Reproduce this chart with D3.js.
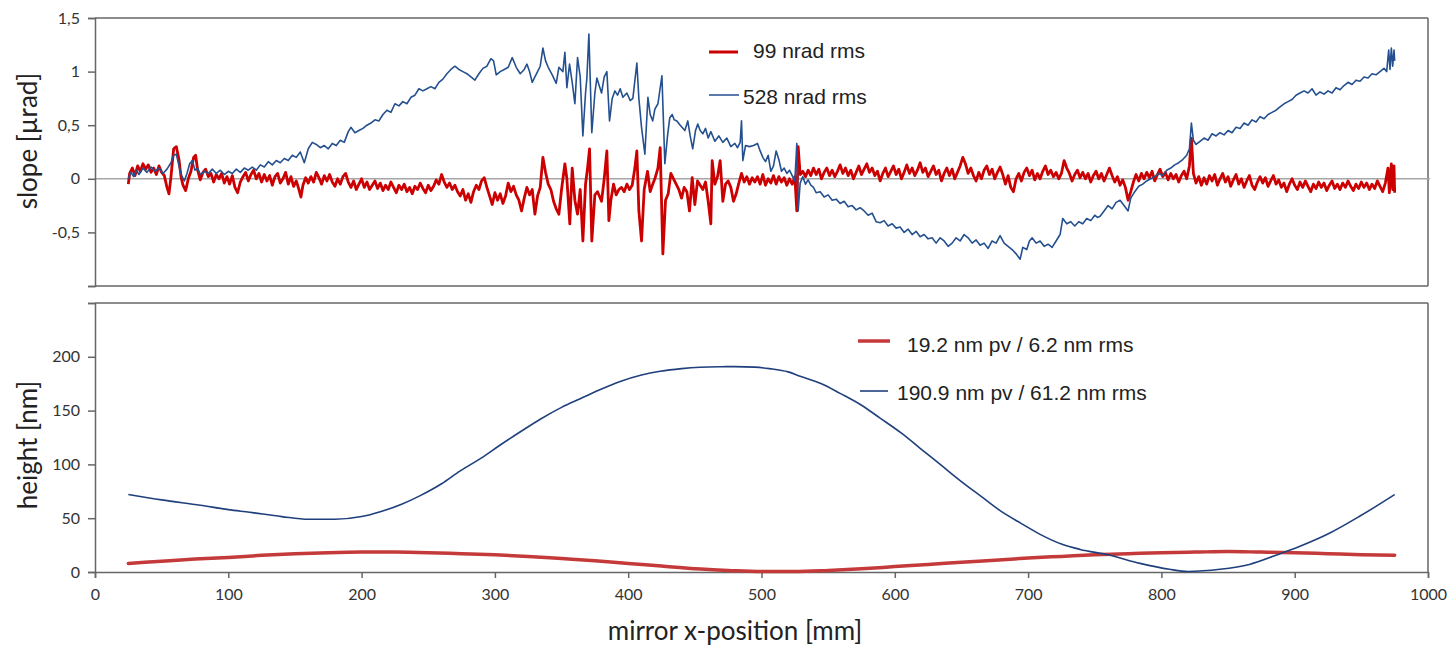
<!DOCTYPE html>
<html><head><meta charset="utf-8">
<script src="https://cdn.jsdelivr.net/npm/d3@7"></script>
<style>
html,body{margin:0;padding:0;background:#fff;}
svg{display:block;}
</style>
</head><body>
<svg id="chart" width="1452" height="646"></svg>
<script>
// ---------------- DATA ----------------
const slopeTicks = [-1, -0.5, 0, 0.5, 1, 1.5];
const slopeTickLabels = ["", "-0,5", "0", "0,5", "1", "1,5"];
const heightTicks = [0, 50, 100, 150, 200, 250];
const heightTickLabels = ["0", "50", "100", "150", "200", ""];
const xTicks = [0, 100, 200, 300, 400, 500, 600, 700, 800, 900, 1000];

const slopeLegend = ["99 nrad rms", "528 nrad rms"];
const heightLegend = ["19.2 nm pv / 6.2 nm rms", "190.9 nm pv / 61.2 nm rms"];

// blue slope (mirror before correction) [x mm, µrad]
const blueSlope = [
[25,0.0],[27,0.06],[29,0.02],[31,0.08],[33,0.04],[36,0.1],[39,0.06],[42,0.11],[45,0.07],[48,0.1],[51,0.05],[54,0.09],[57,0.15],[59,0.22],[61,0.23],[63,0.12],[65,0.03],[67,-0.02],[69,0.05],[71,0.14],[73,0.17],[75,0.08],[77,0.1],[79,0.04],[82,0.07],[85,0.05],[88,0.09],[91,0.05],[94,0.08],[97,0.04],[100,0.07],[103,0.05],[106,0.09],[109,0.06],[112,0.1],[115,0.08],[118,0.11],[121,0.08],[124,0.13],[127,0.11],[130,0.16],[133,0.13],[136,0.17],[139,0.15],[142,0.19],[145,0.17],[148,0.22],[151,0.2],[154,0.25],[157,0.15],[160,0.28],[163,0.34],[166,0.32],[169,0.29],[172,0.31],[175,0.28],[178,0.33],[181,0.31],[184,0.36],[187,0.34],[190,0.44],[192,0.48],[195,0.43],[198,0.45],[201,0.47],[204,0.5],[207,0.52],[210,0.55],[213,0.54],[216,0.6],[219,0.64],[222,0.62],[225,0.7],[228,0.68],[231,0.72],[234,0.7],[237,0.76],[240,0.78],[243,0.84],[246,0.82],[249,0.84],[252,0.86],[255,0.84],[258,0.9],[261,0.93],[264,0.98],[267,1.02],[270,1.05],[273,1.02],[276,1.0],[279,0.98],[282,0.95],[285,0.92],[288,0.98],[291,1.03],[294,1.05],[297,1.12],[299,1.1],[301,0.97],[304,1.0],[307,1.02],[310,1.04],[313,1.13],[316,1.04],[319,0.98],[322,1.02],[324,1.07],[326,1.0],[328,0.9],[330,0.95],[332,1.0],[334,1.05],[336,1.22],[338,1.1],[340,1.04],[343,0.97],[346,0.89],[348,1.04],[351,1.0],[352.5,1.18],[354,0.85],[356,1.07],[358,0.9],[360,0.7],[362,1.13],[364,0.95],[366,0.4],[368,0.8],[369,0.94],[370.5,1.35],[372.7,0.43],[375,0.8],[376.5,0.94],[378,0.88],[380,0.8],[382,0.95],[384,1.0],[386,0.54],[388,0.75],[390,0.82],[392,0.78],[394,0.84],[396,0.76],[399,0.8],[401.5,0.73],[403.5,0.75],[406.5,1.08],[408,0.75],[410,0.48],[412.5,0.23],[414.8,0.76],[416.5,0.6],[418.4,0.54],[420,0.65],[422.3,0.7],[425.3,0.96],[427.5,0.14],[429.5,0.4],[431.2,0.57],[433,0.6],[434.5,0.55],[436.5,0.54],[439,0.5],[442.5,0.45],[444.7,0.54],[446.5,0.4],[448.4,0.28],[450.5,0.45],[452.2,0.51],[454,0.45],[456,0.42],[458,0.47],[460,0.38],[462,0.44],[465,0.35],[468,0.4],[471,0.34],[474,0.38],[477,0.3],[480,0.33],[482,0.29],[484,0.34],[485,0.54],[486,0.17],[488,0.31],[491,0.3],[494,0.31],[497,0.33],[499,0.26],[501,0.2],[503,0.16],[505,0.22],[507,0.07],[509,0.12],[511,0.26],[513,0.18],[515,0.07],[517,0.1],[519,0.05],[521,0.08],[523,0.03],[525,-0.02],[526.5,0.33],[527.5,-0.3],[529,-0.04],[531,0.02],[533,-0.05],[535,-0.01],[537,-0.06],[539,-0.08],[541,-0.13],[544,-0.12],[547,-0.17],[550,-0.15],[553,-0.2],[556,-0.19],[559,-0.23],[562,-0.21],[565,-0.26],[568,-0.25],[571,-0.29],[574,-0.27],[577,-0.3],[580,-0.34],[583,-0.32],[586,-0.4],[589,-0.41],[592,-0.39],[595,-0.44],[598,-0.42],[601,-0.46],[604,-0.45],[607,-0.5],[610,-0.47],[613,-0.52],[616,-0.49],[619,-0.54],[622,-0.52],[625,-0.56],[628,-0.55],[631,-0.6],[634,-0.55],[637,-0.58],[640,-0.63],[643,-0.6],[646,-0.55],[649,-0.58],[652,-0.52],[655,-0.55],[658,-0.6],[661,-0.57],[664,-0.62],[667,-0.6],[670,-0.65],[673,-0.58],[676,-0.6],[679,-0.53],[682,-0.6],[685,-0.63],[688,-0.66],[691,-0.7],[694,-0.75],[696,-0.64],[699,-0.66],[701,-0.58],[703,-0.55],[706,-0.6],[709,-0.58],[712,-0.63],[715,-0.61],[718,-0.64],[721,-0.58],[724,-0.52],[726,-0.37],[729,-0.42],[732,-0.4],[735,-0.44],[738,-0.4],[741,-0.42],[744,-0.37],[747,-0.39],[750,-0.34],[752,-0.36],[754,-0.35],[757,-0.3],[760,-0.25],[763,-0.28],[766,-0.22],[769,-0.2],[772,-0.25],[775,-0.3],[777,-0.18],[780,-0.12],[783,-0.07],[786,-0.05],[789,-0.02],[792,0.0],[795,0.02],[798,0.05],[801,0.03],[804,0.08],[807,0.1],[810,0.13],[813,0.15],[816,0.18],[819,0.22],[821,0.28],[822.5,0.52],[824,0.36],[826,0.32],[829,0.35],[832,0.38],[835,0.36],[838,0.42],[841,0.4],[844,0.43],[847,0.41],[850,0.45],[853,0.43],[856,0.48],[859,0.47],[862,0.52],[865,0.5],[868,0.55],[871,0.53],[874,0.58],[877,0.56],[880,0.6],[883,0.62],[886,0.64],[889,0.67],[892,0.7],[895,0.72],[898,0.74],[901,0.78],[904,0.8],[907,0.82],[910,0.8],[913,0.84],[916,0.78],[919,0.81],[922,0.79],[925,0.82],[928,0.8],[931,0.85],[934,0.83],[937,0.87],[940,0.9],[943,0.88],[946,0.92],[949,0.91],[952,0.95],[955,0.94],[958,0.98],[961,0.97],[964,1.0],[967,1.03],[969,1.0],[970.5,1.2],[971.5,1.02],[972.5,1.22],[973.5,1.05],[974.5,1.2],[975,1.1]
];

// red slope (after correction) [x mm, µrad]
const redSlope = [
[25,-0.05],[26,0.05],[28,0.1],[30,0.03],[32,0.12],[34,0.07],[36,0.14],[38,0.09],[40,0.13],[42,0.06],[44,0.1],[46,0.04],[48,0.12],[50,0.06],[52,0.03],[54,-0.08],[55.5,-0.14],[57,0.02],[59,0.28],[61,0.3],[63,0.18],[64.5,0.02],[66,-0.06],[68,-0.11],[70,0.0],[72,0.07],[74,0.2],[75.5,0.22],[77,0.08],[79,-0.01],[81,0.06],[83,0.09],[85,0.02],[87,0.05],[89,-0.03],[91,0.04],[93,0.0],[95,0.05],[97,-0.04],[99,0.02],[101,-0.05],[103,0.03],[105,-0.08],[107,-0.13],[109,-0.03],[111,0.02],[113,0.06],[115,-0.02],[117,0.04],[119,0.08],[121,0.0],[123,0.05],[125,-0.03],[127,0.04],[129,-0.02],[131,0.03],[133,-0.06],[135,0.02],[137,0.05],[139,-0.04],[141,0.0],[143,0.06],[145,-0.05],[147,0.02],[149,-0.07],[151,-0.02],[153,-0.1],[154.5,-0.17],[156,-0.06],[158,0.01],[160,-0.04],[162,0.02],[164,-0.03],[166,0.06],[168,0.01],[170,-0.05],[172,0.03],[174,-0.02],[176,0.04],[178,-0.03],[180,-0.07],[182,0.0],[184,-0.05],[186,0.02],[188,0.05],[190,-0.03],[192,-0.08],[194,-0.02],[196,-0.1],[198,-0.05],[200,0.0],[202,-0.08],[204,-0.03],[206,-0.1],[208,-0.06],[210,-0.02],[212,-0.09],[214,-0.04],[216,-0.11],[218,-0.06],[220,-0.1],[222,-0.03],[224,-0.08],[226,-0.13],[228,-0.06],[230,-0.1],[232,-0.05],[234,-0.12],[236,-0.08],[238,-0.14],[240,-0.07],[242,-0.1],[244,-0.04],[246,-0.09],[248,-0.13],[250,-0.06],[252,-0.11],[254,-0.07],[256,-0.01],[258,-0.05],[260,0.04],[262,-0.03],[264,-0.08],[266,-0.04],[268,-0.1],[270,-0.06],[272,-0.12],[274,-0.16],[276,-0.1],[278,-0.2],[280,-0.14],[282,-0.22],[284,-0.12],[286,-0.06],[288,-0.1],[290,-0.02],[292,0.01],[294,-0.08],[296,-0.16],[298,-0.24],[300,-0.13],[302,-0.2],[304,-0.14],[306,-0.23],[308,-0.16],[310,-0.04],[312,-0.12],[314,-0.07],[316,-0.15],[318,-0.2],[320,-0.3],[322,-0.18],[324,-0.08],[326,-0.15],[328,-0.1],[330,-0.33],[332,-0.16],[334,-0.08],[336,0.2],[338,0.06],[340,-0.05],[342,-0.1],[344,-0.21],[346,-0.28],[348,-0.33],[350,-0.1],[352.5,0.14],[354,0.0],[356.2,-0.42],[358,0.1],[360,-0.2],[362,-0.33],[364,-0.1],[366,-0.58],[368,-0.05],[369.5,0.1],[371,0.28],[372.7,-0.58],[375,-0.15],[377,-0.12],[380,-0.21],[382,0.0],[384,0.26],[385.5,-0.39],[387,-0.2],[389,-0.05],[391,-0.15],[393,-0.1],[395,-0.08],[397,-0.12],[399,-0.05],[401,-0.1],[403,-0.06],[405,0.1],[406.5,0.26],[408,-0.3],[410,-0.58],[412,-0.1],[414.5,0.07],[416.5,-0.12],[418.4,-0.05],[420,0.0],[422.3,0.1],[424,0.29],[426,-0.7],[428,-0.2],[430,-0.14],[432,0.05],[434,0.0],[436,-0.05],[438,-0.1],[440,-0.18],[442,-0.08],[444,-0.12],[446,-0.3],[448,0.01],[450,-0.24],[452,-0.02],[454,-0.06],[456,-0.1],[458,-0.03],[460,-0.21],[462,-0.42],[463,0.17],[465,-0.05],[467,0.02],[469,0.17],[471,-0.21],[473,-0.05],[475,-0.02],[477,-0.08],[479,-0.21],[481,-0.14],[483,-0.04],[485,0.05],[487,-0.03],[489,0.02],[491,-0.05],[493,0.01],[495,-0.03],[497,0.02],[499,-0.05],[501,0.04],[503,-0.06],[505,0.0],[507,-0.04],[509,0.03],[511,-0.05],[513,0.02],[515,-0.03],[517,0.01],[519,-0.06],[521,0.0],[523,-0.05],[525,0.02],[526.5,-0.3],[527.5,0.3],[529,0.04],[531,0.07],[533,0.02],[535,0.08],[537,0.03],[539,0.1],[541,0.04],[543,0.09],[545,0.0],[547,0.06],[549,0.1],[551,0.03],[553,0.08],[555,0.02],[557,0.07],[559,0.13],[561,0.05],[563,0.1],[565,0.03],[567,0.08],[569,0.0],[571,0.06],[573,0.12],[575,0.04],[577,0.09],[579,0.14],[581,0.06],[583,0.1],[585,0.03],[587,0.07],[589,-0.02],[591,0.05],[593,0.1],[595,0.02],[597,0.07],[599,0.12],[601,0.04],[603,0.09],[605,0.0],[607,0.06],[609,0.13],[611,0.05],[613,0.1],[615,0.03],[617,0.08],[619,0.15],[621,0.06],[623,0.1],[625,0.02],[627,0.07],[629,0.12],[631,0.04],[633,0.08],[635,-0.02],[637,0.05],[639,0.1],[641,0.03],[643,0.09],[645,0.0],[647,0.06],[649,0.12],[651,0.2],[653,0.14],[655,0.05],[657,0.1],[659,0.03],[661,-0.02],[663,0.06],[665,0.0],[667,0.08],[669,0.12],[671,0.04],[673,0.09],[675,0.0],[677,0.06],[679,0.11],[681,0.04],[683,-0.05],[685,0.03],[687,-0.08],[689,-0.12],[691,0.0],[693,0.05],[695,-0.02],[697,0.06],[699,0.1],[701,0.03],[703,0.08],[705,-0.01],[707,0.05],[709,0.0],[711,0.07],[713,0.12],[715,0.04],[717,0.08],[719,0.02],[721,0.06],[723,0.0],[725,0.05],[727,0.17],[729,0.1],[731,0.05],[733,-0.02],[735,0.04],[737,0.08],[739,0.01],[741,0.06],[743,0.0],[745,0.05],[747,-0.03],[749,0.03],[751,0.07],[753,0.0],[755,0.05],[757,-0.02],[759,0.04],[761,0.1],[763,0.03],[765,-0.03],[767,0.02],[769,-0.06],[771,-0.01],[773,-0.08],[775,-0.2],[777,-0.12],[779,-0.03],[781,0.04],[783,-0.02],[785,0.05],[787,0.0],[789,0.06],[791,0.01],[793,0.07],[795,-0.02],[797,0.04],[799,0.09],[801,0.02],[803,0.06],[805,-0.01],[807,0.05],[809,0.0],[811,0.04],[813,-0.03],[815,0.03],[817,0.07],[819,0.0],[821,0.12],[822.5,0.38],[824,0.05],[826,-0.04],[828,0.02],[830,-0.06],[832,0.01],[834,-0.05],[836,0.03],[838,-0.02],[840,0.04],[842,-0.06],[844,0.0],[846,0.05],[848,-0.03],[850,0.02],[852,-0.07],[854,-0.01],[856,0.04],[858,-0.05],[860,0.0],[862,-0.08],[864,-0.02],[866,0.03],[868,-0.06],[870,-0.1],[872,-0.03],[874,0.02],[876,-0.04],[878,0.01],[880,-0.07],[882,-0.02],[884,0.03],[886,-0.05],[888,-0.01],[890,-0.08],[892,-0.04],[894,-0.12],[896,-0.05],[898,0.0],[900,-0.06],[902,-0.1],[904,-0.03],[906,-0.08],[908,-0.02],[910,-0.07],[912,-0.12],[914,-0.05],[916,-0.09],[918,-0.03],[920,-0.08],[922,-0.04],[924,-0.11],[926,-0.06],[928,-0.02],[930,-0.09],[932,-0.05],[934,-0.1],[936,-0.04],[938,-0.08],[940,-0.02],[942,-0.07],[944,-0.11],[946,-0.05],[948,-0.09],[950,-0.03],[952,-0.08],[954,-0.04],[956,-0.1],[958,-0.05],[960,-0.09],[962,-0.02],[964,-0.07],[966,-0.12],[968,-0.04],[970,0.1],[971,-0.13],[972.5,0.14],[973.5,-0.1],[974.5,0.12],[975,-0.13]
];

// height profiles [x mm, nm]
const blueHeight = [
[25,72],[50,67],[79,62],[100,58],[116,55.5],[140,51.5],[160,49],[180,49],[200,51.5],[214,56],[230,63],[244,71],[260,82],[274,94],[290,106],[304,118],[320,131],[334,142],[350,153],[364,161],[380,170],[394,177],[410,183],[424,186.5],[440,189],[454,190.3],[470,190.8],[480,190.9],[495,190.4],[506,189],[520,186],[529,182],[545,175],[559,166],[575,155],[589,143],[605,129],[619,115],[635,99],[649,85],[665,70],[679,57],[695,45],[709,35],[725,26],[739,21],[760,16],[784,8],[806,2.5],[820,0.5],[844,2.5],[866,7],[891,18],[904,24],[926,36],[949,52],[975,72]
];
const redHeight = [
[25,8],[50,10],[75,12],[100,13.5],[125,15.5],[150,17],[175,18],[200,18.5],[225,18.5],[250,18],[275,17],[300,16],[325,14.5],[350,12.5],[375,10.5],[400,8],[425,5.5],[450,3],[475,1.5],[500,0.5],[525,0.5],[550,1.5],[575,3],[600,5],[625,7],[650,9],[675,11],[700,13],[725,14.5],[750,16],[775,17],[800,18],[825,18.5],[850,19],[875,18.5],[900,18],[925,17],[950,16],[975,15.5]
];

// ---------------- DRAW ----------------
const svg = d3.select("#chart");
const L = 95, R = 1428;
const top1 = 18, bot1 = 286;
const top2 = 303, bot2 = 572;

const x = d3.scaleLinear().domain([0, 1000]).range([L, R]);
const ySlope = d3.scaleLinear().domain([-1, 1.5]).range([bot1, top1]);
const yHeight = d3.scaleLinear().domain([0, 250]).range([bot2, top2]);

const axisColor = "#666";
const tickFont = "Lato, 'Open Sans', sans-serif";
const labelFont = "Lato, 'Open Sans', sans-serif";

function styleAxis(g) {
  g.select(".domain").attr("stroke", axisColor).attr("stroke-width", 1.5);
  g.selectAll(".tick line").attr("stroke", axisColor).attr("stroke-width", 1.5);
  g.selectAll(".tick text").attr("fill", "#333").attr("font-family", tickFont).attr("font-size", 16);
}

// ---- top panel ----
svg.append("line").attr("x1", L).attr("x2", R).attr("y1", ySlope(1.5)).attr("y2", ySlope(1.5)).attr("stroke", axisColor).attr("stroke-width", 1.5);
svg.append("line").attr("x1", R).attr("x2", R).attr("y1", ySlope(1.5)).attr("y2", ySlope(-1)).attr("stroke", axisColor).attr("stroke-width", 1.5);
svg.append("line").attr("x1", L).attr("x2", R).attr("y1", ySlope(-1)).attr("y2", ySlope(-1)).attr("stroke", axisColor).attr("stroke-width", 1.5);
svg.append("line").attr("x1", L).attr("x2", R + 2).attr("y1", ySlope(0)).attr("y2", ySlope(0)).attr("stroke", "#a6a6a6").attr("stroke-width", 1.5);

const gy1 = svg.append("g").attr("transform", `translate(${L},0)`)
  .call(d3.axisLeft(ySlope).tickValues(slopeTicks).tickSize(7).tickPadding(8)
    .tickFormat((d, i) => slopeTickLabels[i]));
styleAxis(gy1);

const slopeLine = d3.line().x(d => x(d[0])).y(d => ySlope(d[1]));
svg.append("path").datum(redSlope).attr("d", slopeLine).attr("fill", "none")
  .attr("stroke", "#cc0000").attr("stroke-width", 2.8).attr("stroke-linejoin", "round");
svg.append("path").datum(blueSlope).attr("d", slopeLine).attr("fill", "none")
  .attr("stroke", "#24508f").attr("stroke-width", 1.6).attr("stroke-linejoin", "round");

// ---- bottom panel ----
svg.append("line").attr("x1", L).attr("x2", R).attr("y1", yHeight(250)).attr("y2", yHeight(250)).attr("stroke", axisColor).attr("stroke-width", 1.5);
svg.append("line").attr("x1", R).attr("x2", R).attr("y1", yHeight(250)).attr("y2", yHeight(0)).attr("stroke", axisColor).attr("stroke-width", 1.5);

const gy2 = svg.append("g").attr("transform", `translate(${L},0)`)
  .call(d3.axisLeft(yHeight).tickValues(heightTicks).tickSize(7).tickPadding(8)
    .tickFormat((d, i) => heightTickLabels[i]));
styleAxis(gy2);

const gx = svg.append("g").attr("transform", `translate(0,${bot2})`)
  .call(d3.axisBottom(x).tickValues(xTicks).tickSize(6).tickPadding(11).tickFormat(d3.format("d")));
styleAxis(gx);

const hLine = d3.line().x(d => x(d[0])).y(d => yHeight(d[1])).curve(d3.curveMonotoneX);
svg.append("path").datum(redHeight).attr("d", hLine).attr("fill", "none")
  .attr("stroke", "#c43a3a").attr("stroke-width", 3.5).attr("stroke-linecap", "round");
svg.append("path").datum(blueHeight).attr("d", hLine).attr("fill", "none")
  .attr("stroke", "#1f3f7d").attr("stroke-width", 1.6);

// ---- legends ----
const legFont = "'Liberation Sans', Arial, sans-serif";
function legendItem(x1, x2, ly, tx, ty, color, w, text) {
  svg.append("line").attr("x1", x1).attr("x2", x2).attr("y1", ly).attr("y2", ly)
    .attr("stroke", color).attr("stroke-width", w);
  svg.append("text").attr("x", tx).attr("y", ty).text(text)
    .attr("font-family", legFont).attr("font-size", 21).attr("fill", "#222");
}
legendItem(709, 738, 52, 753, 58, "#cc0000", 3, slopeLegend[0]);
legendItem(709, 739, 95, 743, 104, "#5b7bb0", 2, slopeLegend[1]);
legendItem(858, 890, 341, 907, 352, "#c43a3a", 3.5, heightLegend[0]);
legendItem(860, 888, 391, 897, 400, "#1f3f7d", 1.6, heightLegend[1]);

// ---- axis titles ----
svg.append("text").attr("transform", "translate(37,141) rotate(-90)").attr("text-anchor", "middle")
  .attr("font-family", labelFont).attr("font-size", 26).attr("fill", "#222").text("slope [µrad]");
svg.append("text").attr("transform", "translate(37,445) rotate(-90)").attr("text-anchor", "middle")
  .attr("font-family", labelFont).attr("font-size", 26).attr("fill", "#222").text("height [nm]");
svg.append("text").attr("x", 735).attr("y", 640).attr("text-anchor", "middle")
  .attr("font-family", labelFont).attr("font-size", 26).attr("fill", "#222").text("mirror x-position [mm]");
</script>
</body></html>
